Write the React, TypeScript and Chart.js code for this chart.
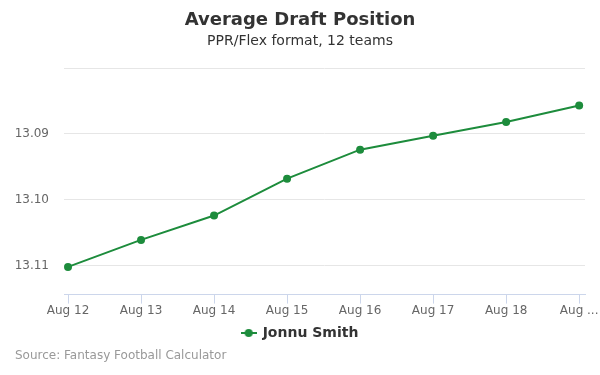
import React, { useEffect, useRef } from "react";
import { Chart, registerables } from "chart.js";

Chart.register(...registerables);

const categories = ["Aug 12", "Aug 13", "Aug 14", "Aug 15", "Aug 16", "Aug 17", "Aug 18", "Aug 19"];
const adpValues = [13.1102, 13.1061, 13.1024, 13.0968, 13.0924, 13.0903, 13.0882, 13.0857];
const yTickValues = [13.08, 13.09, 13.1, 13.11];
const seriesName = "Jonnu Smith";
const titleText = "Average Draft Position";
const subtitleText = "PPR/Flex format, 12 teams";
const sourceText = "Source: Fantasy Football Calculator";

const GREEN = "#1d8c3c";
const FONT = "'DejaVu Sans', sans-serif";

function makeLegendSymbol(): HTMLCanvasElement {
  const c = document.createElement("canvas");
  c.width = 16;
  c.height = 10;
  const ctx = c.getContext("2d")!;
  ctx.strokeStyle = GREEN;
  ctx.lineWidth = 2;
  ctx.beginPath();
  ctx.moveTo(0, 5);
  ctx.lineTo(16, 5);
  ctx.stroke();
  ctx.fillStyle = GREEN;
  ctx.beginPath();
  ctx.arc(8, 5, 4, 0, Math.PI * 2);
  ctx.fill();
  return c;
}

const sourcePlugin = {
  id: "sourceText",
  afterDraw(chart: any) {
    const ctx = chart.ctx;
    ctx.save();
    ctx.font = `12px ${FONT}`;
    ctx.fillStyle = "#999999";
    ctx.textAlign = "left";
    ctx.textBaseline = "middle";
    ctx.fillText(sourceText, 15, 356);
    ctx.restore();
  },
};

export default function App() {
  const ref = useRef<HTMLCanvasElement | null>(null);
  useEffect(() => {
    if (!ref.current) return;
    const chart = new Chart(ref.current, {
      type: "line",
      data: {
        datasets: [
          {
            label: seriesName,
            data: adpValues.map((v, i) => ({ x: i, y: v })),
            borderColor: GREEN,
            backgroundColor: GREEN,
            borderWidth: 2,
            pointRadius: 4,
            pointHoverRadius: 4,
            pointBackgroundColor: GREEN,
            pointBorderWidth: 0,
            pointStyle: "circle",
            tension: 0,
          },
        ],
      },
      options: {
        animation: false,
        responsive: false,
        layout: { padding: { left: 0, right: 0, top: 0, bottom: 25 } },
        plugins: {
          title: {
            display: true,
            text: titleText,
            color: "#333333",
            font: { family: FONT, size: 18, weight: "bold" },
            padding: { top: 10, bottom: 0 },
          },
          subtitle: {
            display: true,
            text: subtitleText,
            color: "#333333",
            font: { family: FONT, size: 14 },
            padding: { top: 1, bottom: 18.6 },
          },
          legend: {
            position: "bottom",
            labels: {
              usePointStyle: true,
              pointStyle: makeLegendSymbol() as any,
              color: "#333333",
              font: { family: FONT, size: 14, weight: "bold" },
              padding: 8,
            },
          },
          tooltip: { enabled: false },
        },
        scales: {
          x: {
            type: "linear",
            min: -0.055,
            max: 7.08,
            afterBuildTicks: (scale: any) => {
              scale.ticks = categories.map((_, i) => ({ value: i }));
            },
            ticks: {
              color: "#666666",
              font: { family: FONT, size: 12 },
              padding: 0,
              maxRotation: 0,
              autoSkip: false,
              callback: (v: any) => {
                const label = categories[v as number] ?? "";
                return v === categories.length - 1 ? "Aug ..." : label;
              },
            },
            grid: {
              drawOnChartArea: false,
              drawTicks: true,
              tickLength: 9,
              color: "#ccd6eb",
            },
            border: { display: true, color: "#ccd6eb", width: 1 },
          },
          y: {
            type: "linear",
            reverse: true,
            min: 13.08,
            max: 13.1144,
            afterBuildTicks: (scale: any) => {
              scale.ticks = yTickValues.map((v) => ({ value: v }));
            },
            afterFit: (scale: any) => {
              scale.width = 64;
            },
            ticks: {
              color: "#666666",
              font: { family: FONT, size: 12 },
              padding: 15,
              callback: (v: any) => (Math.abs(v - 13.08) < 1e-6 ? "" : Number(v).toFixed(2)),
            },
            grid: { color: "#e6e6e6", drawTicks: false },
            border: { display: false },
          },
          yRightSpacer: {
            type: "linear",
            position: "right",
            display: true,
            afterBuildTicks: (scale: any) => {
              scale.ticks = [];
            },
            afterFit: (scale: any) => {
              scale.width = 15;
            },
            ticks: { display: false },
            grid: { display: false, drawOnChartArea: false, drawTicks: false },
            border: { display: false },
          },
        },
      },
      plugins: [sourcePlugin],
    } as any);
    return () => chart.destroy();
  }, []);
  return (
    <div style={{ position: "absolute", left: 0, top: 0, width: 600, height: 375, background: "#fff" }}>
      <canvas ref={ref} width={600} height={375} style={{ width: 600, height: 375 }} />
    </div>
  );
}
